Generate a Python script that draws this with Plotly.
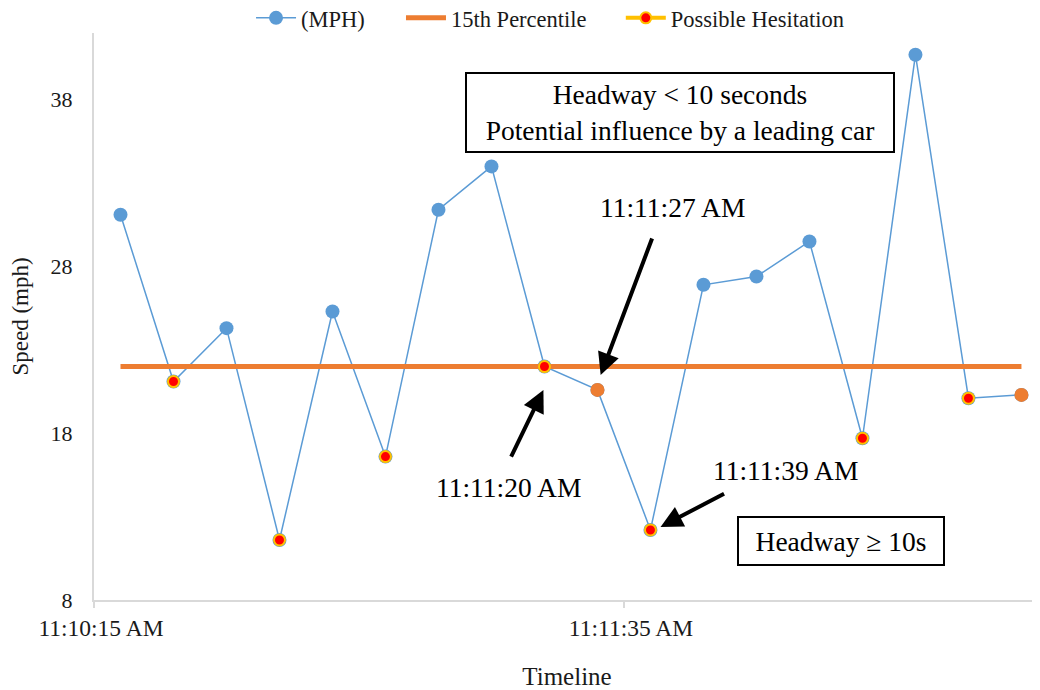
import plotly.graph_objects as go

# ---- data ----
time_labels = ["11:10:15 AM", "11:11:35 AM"]
label_slots = [-0.5, 9.5]
speed_mph = [31.1, 21.1, 24.3, 11.6, 25.3, 16.6, 31.4, 34.0, 22.0,
             20.6, 12.2, 26.9, 27.4, 29.5, 17.7, 40.7, 20.1, 20.3]
percentile_15 = 22.0
hesitation_idx = [1, 3, 5, 8, 10, 14, 16]
leading_idx = [9, 17]
y_ticks = [8, 18, 28, 38]

FONT = "Liberation Serif"
BLUE = "#5B9BD5"
ORANGE = "#ED7D31"
GOLD = "#FFC000"
RED = "#FF0000"

idx = list(range(len(speed_mph)))

fig = go.Figure()

fig.add_trace(go.Scatter(
    x=idx, y=speed_mph, mode="lines+markers", name="(MPH)",
    line=dict(color=BLUE, width=1.5),
    marker=dict(color=BLUE, size=14), legend="legend",
))

fig.add_trace(go.Scatter(
    x=[idx[0], idx[-1]], y=[percentile_15, percentile_15], mode="lines",
    name="15th Percentile", line=dict(color=ORANGE, width=5),
    legend="legend2",
))

# legend entry for hesitation (line + marker as in the original legend)
fig.add_trace(go.Scatter(
    x=[None], y=[None], mode="lines+markers", name="Possible Hesitation",
    line=dict(color=GOLD, width=4),
    marker=dict(color=RED, size=11, line=dict(color=GOLD, width=2)),
    legend="legend3",
))

fig.add_trace(go.Scatter(
    x=[idx[i] for i in hesitation_idx],
    y=[speed_mph[i] for i in hesitation_idx],
    mode="markers", showlegend=False,
    marker=dict(color=RED, size=11, line=dict(color=GOLD, width=2)),
))

fig.add_trace(go.Scatter(
    x=[idx[i] for i in leading_idx],
    y=[speed_mph[i] for i in leading_idx],
    mode="markers", showlegend=False,
    marker=dict(color=ORANGE, size=14),
))

txt = dict(family=FONT, size=27.5, color="#000000")

annotations = [
    dict(x=10.55, y=37.26, xref="x", yref="y", showarrow=False,
         text="Headway &lt; 10 seconds<br>Potential influence by a leading car",
         font=txt, bordercolor="#000000", borderwidth=2, borderpad=3,
         bgcolor="#FFFFFF", width=420, height=71),
    dict(x=13.6, y=11.54, xref="x", yref="y", showarrow=False,
         text="Headway ≥ 10s", font=txt, bordercolor="#000000",
         borderwidth=2, borderpad=3, bgcolor="#FFFFFF", width=198, height=40),
    dict(x=10.41, y=31.56, xref="x", yref="y", showarrow=False,
         text="11:11:27 AM", font=txt),
    dict(x=7.32, y=14.73, xref="x", yref="y", showarrow=False,
         text="11:11:20 AM", font=txt),
    dict(x=12.55, y=15.79, xref="x", yref="y", showarrow=False,
         text="11:11:39 AM", font=txt),
    # arrows
    dict(x=9.06, y=21.49, xref="x", yref="y", ax=52, ay=-138, text="",
         showarrow=True, arrowhead=2, arrowsize=1.1, arrowwidth=4,
         arrowcolor="#000000", standoff=0),
    dict(x=7.98, y=20.59, xref="x", yref="y", ax=-33, ay=68, text="",
         showarrow=True, arrowhead=2, arrowsize=1.1, arrowwidth=4,
         arrowcolor="#000000", standoff=0),
    dict(x=10.19, y=12.38, xref="x", yref="y", ax=65, ay=-34, text="",
         showarrow=True, arrowhead=2, arrowsize=1.1, arrowwidth=4,
         arrowcolor="#000000", standoff=0),
]

legend_common = dict(orientation="h", xref="container", yref="container",
                     xanchor="left", y=0.985, yanchor="middle",
                     font=dict(family=FONT, size=22.5, color="#1a1a1a"),
                     itemwidth=40, bgcolor="rgba(0,0,0,0)")

# page body has an 8px margin: figure is 1032x682 so it fills the 1040x690 view
fig.update_layout(
    width=1032, height=682,
    margin=dict(l=86, r=0, t=25, b=90, autoexpand=False),
    paper_bgcolor="#FFFFFF", plot_bgcolor="#FFFFFF",
    font=dict(family=FONT, size=22, color="#1a1a1a"),
    showlegend=True,
    legend=dict(legend_common, x=0.2355),
    legend2=dict(legend_common, x=0.3808),
    legend3=dict(legend_common, x=0.5938),
    annotations=annotations,
    xaxis=dict(
        range=[-0.5, 17.35], showgrid=False, zeroline=False,
        automargin=False,
        showline=True, linecolor="#D9D9D9", linewidth=2,
        tickmode="array", tickvals=label_slots, ticktext=time_labels,
        ticks="outside", ticklen=6, tickcolor="#D9D9D9", tickwidth=1.5,
        ticklabelshift=7,
        tickfont=dict(family=FONT, size=23.5, color="#1a1a1a"),
        title=dict(text="Timeline", standoff=29,
                   font=dict(family=FONT, size=25, color="#1a1a1a")),
    ),
    yaxis=dict(
        range=[8, 42], showgrid=False, zeroline=False,
        automargin=False,
        showline=True, linecolor="#D9D9D9", linewidth=2,
        tickmode="array", tickvals=y_ticks,
        ticks="", ticklabelstandoff=15,
        tickfont=dict(family=FONT, size=22, color="#1a1a1a"),
        title=dict(text="Speed (mph)", standoff=16,
                   font=dict(family=FONT, size=23, color="#1a1a1a")),
    ),
)

fig.write_html("out.html")
